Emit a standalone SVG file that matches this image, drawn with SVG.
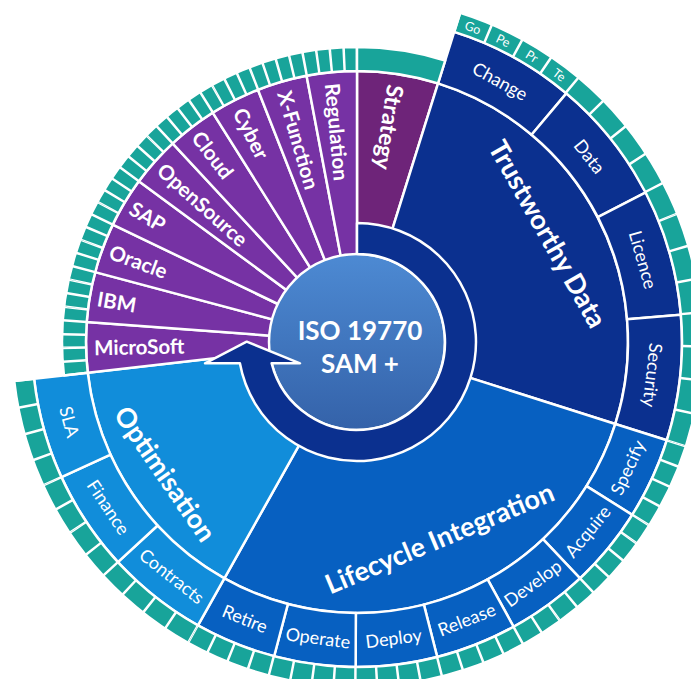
<svg xmlns="http://www.w3.org/2000/svg" width="691" height="679" viewBox="0 0 691 679">
<defs>
<linearGradient id="gc" x1="0" y1="0" x2="0" y2="1">
<stop offset="0" stop-color="#4d8ad3"/><stop offset="1" stop-color="#3462a9"/>
</linearGradient>
<style>
.seg{stroke:#fff;stroke-width:2.5;stroke-linejoin:round}
.td{fill:#0b308f}.li{fill:#0760c1}.op{fill:#118dda}.pu{fill:#7632a4}.st{fill:#6e2479}.tl{fill:#18a49a}
.tick{fill:none;stroke:#fff}
text{font-family:Lato,"Noto Sans",sans-serif;fill:#fff}
.maj{font-size:27px;font-weight:700}
.ven{font-size:20.5px;font-weight:700}
.stt{font-size:23px;font-weight:700}
.sub{font-size:18px}
.tlab{font-size:12.5px}
.ctr{font-size:26px;font-weight:700}
</style>
</defs>
<rect width="691" height="679" fill="#fff"/>
<g id="strategy">
<path class="seg st" d="M357,342 L357,71 A271,271 0 0 1 438.04,83.40 Z"/>
<text class="stt" x="97" y="342" dominant-baseline="central" transform="rotate(98.7 357 342)">Strategy</text>
</g>
<g id="trustworthy-data">
<path class="seg td" d="M357,342 L438.04,83.40 A271,271 0 0 1 615.32,423.94 Z"/>
<text class="maj" x="357" y="122" text-anchor="middle" dominant-baseline="central" transform="rotate(60.5 357 342)">Trustworthy Data</text>
</g>
<g id="lifecycle-integration">
<path class="seg li" d="M357,342 L615.32,423.94 A271,271 0 0 1 224.38,578.33 Z"/>
<text class="maj" x="357" y="554" text-anchor="middle" dominant-baseline="central" transform="rotate(-22.8 357 342)">Lifecycle Integration</text>
</g>
<g id="optimisation">
<path class="seg op" d="M357,342 L224.38,578.33 A271,271 0 0 1 87.74,372.68 Z"/>
<text class="maj" x="357" y="574" text-anchor="middle" dominant-baseline="central" transform="rotate(55.5 357 342)">Optimisation</text>
</g>
<g id="microsoft"><path class="seg pu" d="M357,342 L87.74,372.68 A271,271 0 0 1 86.73,322.06 Z"/>
<text class="ven" x="94" y="342" dominant-baseline="central" transform="rotate(-1.14 357 342)">MicroSoft</text></g>
<g id="ibm"><path class="seg pu" d="M357,342 L86.73,322.06 A271,271 0 0 1 95.16,272.13 Z"/>
<text class="ven" x="94" y="342" dominant-baseline="central" transform="rotate(9.58 357 342)">IBM</text></g>
<g id="oracle"><path class="seg pu" d="M357,342 L95.16,272.13 A271,271 0 0 1 112.74,224.61 Z"/>
<text class="ven" x="94" y="342" dominant-baseline="central" transform="rotate(20.3 357 342)">Oracle</text></g>
<g id="sap"><path class="seg pu" d="M357,342 L112.74,224.61 A271,271 0 0 1 138.84,181.22 Z"/>
<text class="ven" x="94" y="342" dominant-baseline="central" transform="rotate(31.03 357 342)">SAP</text></g>
<g id="opensource"><path class="seg pu" d="M357,342 L138.84,181.22 A271,271 0 0 1 172.56,143.45 Z"/>
<text class="ven" x="94" y="342" dominant-baseline="central" transform="rotate(41.75 357 342)">OpenSource</text></g>
<g id="cloud"><path class="seg pu" d="M357,342 L172.56,143.45 A271,271 0 0 1 212.71,112.60 Z"/>
<text class="ven" x="94" y="342" dominant-baseline="central" transform="rotate(52.47 357 342)">Cloud</text></g>
<g id="cyber"><path class="seg pu" d="M357,342 L212.71,112.60 A271,271 0 0 1 257.94,89.75 Z"/>
<text class="ven" x="96" y="342" dominant-baseline="central" transform="rotate(63.19 357 342)">Cyber</text></g>
<g id="x-function"><path class="seg pu" d="M357,342 L257.94,89.75 A271,271 0 0 1 306.59,75.73 Z"/>
<text class="ven" x="96" y="342" dominant-baseline="central" transform="rotate(73.92 357 342)">X-Function</text></g>
<g id="regulation"><path class="seg pu" d="M357,342 L306.59,75.73 A271,271 0 0 1 357,71 Z"/>
<text class="ven" x="97" y="342" dominant-baseline="central" transform="rotate(84.64 357 342)">Regulation</text></g>

<g id="change"><path class="seg td" d="M438.04,83.40 L454.19,31.87 A325,325 0 0 1 566.34,93.40 L531.56,134.71 A271,271 0 0 0 438.04,83.40 Z"/>
<text class="sub" x="357" y="44" text-anchor="middle" dominant-baseline="central" transform="rotate(28.75 357 342)">Change</text></g>
<g id="data"><path class="seg td" d="M531.56,134.71 L566.34,93.40 A325,325 0 0 1 645.80,192.29 L597.82,217.16 A271,271 0 0 0 531.56,134.71 Z"/>
<text class="sub" x="357" y="44" text-anchor="middle" dominant-baseline="central" transform="rotate(51.4 357 342)">Data</text></g>
<g id="licence"><path class="seg td" d="M597.82,217.16 L645.80,192.29 A325,325 0 0 1 680.86,314.80 L627.05,319.32 A271,271 0 0 0 597.82,217.16 Z"/>
<text class="sub" x="357" y="44" text-anchor="middle" dominant-baseline="central" transform="rotate(73.95 357 342)">Licence</text></g>
<g id="security"><path class="seg td" d="M627.05,319.32 L680.86,314.80 A325,325 0 0 1 666.80,440.27 L615.32,423.94 A271,271 0 0 0 627.05,319.32 Z"/>
<text class="sub" x="357" y="44" text-anchor="middle" dominant-baseline="central" transform="rotate(96.4 357 342)">Security</text></g>
<g id="specify"><path class="seg li" d="M615.32,423.94 L666.80,440.27 A325,325 0 0 1 632.23,514.85 L586.50,486.13 A271,271 0 0 0 615.32,423.94 Z"/>
<text class="sub" x="357" y="640" text-anchor="middle" dominant-baseline="central" transform="rotate(-65.13 357 342)">Specify</text></g>
<g id="acquire"><path class="seg li" d="M586.50,486.13 L632.23,514.85 A325,325 0 0 1 580.06,578.37 L543.00,539.10 A271,271 0 0 0 586.50,486.13 Z"/>
<text class="sub" x="357" y="640" text-anchor="middle" dominant-baseline="central" transform="rotate(-50.6 357 342)">Acquire</text></g>
<g id="develop"><path class="seg li" d="M543.00,539.10 L580.06,578.37 A325,325 0 0 1 513.62,626.77 L487.60,579.46 A271,271 0 0 0 543.00,539.10 Z"/>
<text class="sub" x="357" y="640" text-anchor="middle" dominant-baseline="central" transform="rotate(-36.08 357 342)">Develop</text></g>
<g id="release"><path class="seg li" d="M487.60,579.46 L513.62,626.77 A325,325 0 0 1 437.22,656.95 L423.89,604.62 A271,271 0 0 0 487.60,579.46 Z"/>
<text class="sub" x="357" y="640" text-anchor="middle" dominant-baseline="central" transform="rotate(-21.55 357 342)">Release</text></g>
<g id="deploy"><path class="seg li" d="M423.89,604.62 L437.22,656.95 A325,325 0 0 1 355.64,667.00 L355.86,613.00 A271,271 0 0 0 423.89,604.62 Z"/>
<text class="sub" x="357" y="640" text-anchor="middle" dominant-baseline="central" transform="rotate(-7.02 357 342)">Deploy</text></g>
<g id="operate"><path class="seg li" d="M355.86,613.00 L355.64,667.00 A325,325 0 0 1 274.14,656.27 L287.91,604.05 A271,271 0 0 0 355.86,613.00 Z"/>
<text class="sub" x="357" y="640" text-anchor="middle" dominant-baseline="central" transform="rotate(7.5 357 342)">Operate</text></g>
<g id="retire"><path class="seg li" d="M287.91,604.05 L274.14,656.27 A325,325 0 0 1 197.95,625.43 L224.38,578.33 A271,271 0 0 0 287.91,604.05 Z"/>
<text class="sub" x="357" y="640" text-anchor="middle" dominant-baseline="central" transform="rotate(22.03 357 342)">Retire</text></g>
<g id="contracts"><path class="seg op" d="M224.38,578.33 L197.95,625.43 A325,325 0 0 1 117.88,562.12 L157.61,525.54 A271,271 0 0 0 224.38,578.33 Z"/>
<text class="sub" x="357" y="640" text-anchor="middle" dominant-baseline="central" transform="rotate(38.33 357 342)">Contracts</text></g>
<g id="finance"><path class="seg op" d="M157.61,525.54 L117.88,562.12 A325,325 0 0 1 61.42,477.14 L110.53,454.69 A271,271 0 0 0 157.61,525.54 Z"/>
<text class="sub" x="357" y="640" text-anchor="middle" dominant-baseline="central" transform="rotate(56.4 357 342)">Finance</text></g>
<g id="sla"><path class="seg op" d="M110.53,454.69 L61.42,477.14 A325,325 0 0 1 34.09,378.79 L87.74,372.68 A271,271 0 0 0 110.53,454.69 Z"/>
<text class="sub" x="357" y="640" text-anchor="middle" dominant-baseline="central" transform="rotate(74.47 357 342)">SLA</text></g>

<g id="leaf-ring">
<path class="seg tl" d="M454.19,31.87 L460.17,12.79 A345,345 0 1 1 14.22,381.05 L34.09,378.79 A325,325 0 1 0 454.19,31.87 Z"/>
<path class="seg tl" d="M87.74,372.68 L63.90,375.39 A295,295 0 0 1 357,47 L357,71 A271,271 0 0 0 87.74,372.68 Z"/>
<path class="seg tl" d="M357,71 L357,47 A295,295 0 0 1 445.22,60.50 L438.04,83.40 A271,271 0 0 0 357,71 Z"/>
<path class="tick" stroke-width="20" stroke-dasharray="1.25 30.46 1.25 0" d="M457.18,22.33 A335,335 0 0 1 676.33,443.30"/>
<path class="tick" stroke-width="20" stroke-dasharray="1.25 18.737 1.25 0" d="M676.33,443.30 A335,335 0 0 1 193.05,634.15"/>
<path class="tick" stroke-width="20" stroke-dasharray="1.25 23.908 1.25 0" d="M193.05,634.15 A335,335 0 0 1 24.15,379.92"/>
<path class="tick" stroke-width="24" stroke-dasharray="1.25 10.74 1.25 0" d="M75.82,374.04 A283,283 0 0 1 357,59"/>
<text class="tlab" x="357" y="7" text-anchor="middle" dominant-baseline="central" transform="rotate(20.22 357 342)">Go</text>
<text class="tlab" x="357" y="7" text-anchor="middle" dominant-baseline="central" transform="rotate(25.86 357 342)">Pe</text>
<text class="tlab" x="357" y="7" text-anchor="middle" dominant-baseline="central" transform="rotate(31.49 357 342)">Pr</text>
<text class="tlab" x="357" y="7" text-anchor="middle" dominant-baseline="central" transform="rotate(37.13 357 342)">Te</text>
</g>

<g id="iso-19770-sam">
<circle cx="357" cy="342" r="88" fill="url(#gc)" stroke="#fff" stroke-width="2.5"/>
<text class="ctr" x="360" y="340" text-anchor="middle">ISO 19770</text>
<text class="ctr" x="360" y="373" text-anchor="middle">SAM +</text>
</g>

<g id="connectors">
<path class="seg td" d="M357,223 A119,119 0 1 1 239.9,363.3 L205,363.3 L246.7,341.7 L300,363.3 L271.6,363.3 A88,88 0 1 0 357,254 Z"/>
</g>
</svg>
